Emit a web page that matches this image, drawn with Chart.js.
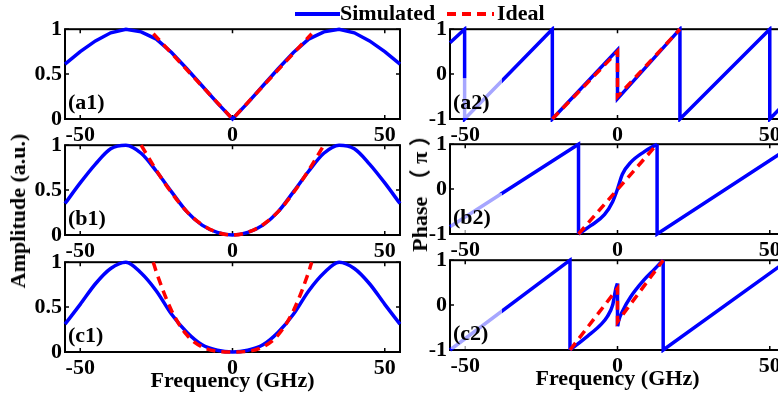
<!DOCTYPE html>
<html>
<head>
<meta charset="utf-8">
<script src="https://cdn.jsdelivr.net/npm/chart.js@4.4.0/dist/chart.umd.min.js"></script>
<style>
  html, body { margin: 0; padding: 0; background: #fff; }
  #fig { position: relative; width: 778px; height: 396px; overflow: hidden;
         font-family: 'Liberation Serif', 'Times New Roman', serif; font-weight: bold; color: #000; }
  #fig canvas { position: absolute; }
  .txt { position: absolute; font-size: 22px; line-height: 22px; white-space: nowrap; }
</style>
</head>
<body>
<div id="fig">
  <canvas id="a1" width="404" height="136" style="left:0;top:13px"></canvas>
  <canvas id="b1" width="404" height="136" style="left:0;top:129px"></canvas>
  <canvas id="c1" width="404" height="136" style="left:0;top:246px"></canvas>
  <canvas id="a2" width="404" height="136" style="left:385px;top:13px"></canvas>
  <canvas id="b2" width="404" height="136" style="left:385px;top:128px"></canvas>
  <canvas id="c2" width="404" height="136" style="left:385px;top:244px"></canvas>

  <!-- legend -->
  <div style="position:absolute;left:295px;top:12px;width:45px;height:3.5px;background:#00f"></div>
  <div class="txt" style="left:340px;top:2px">Simulated</div>
  <div style="position:absolute;left:447px;top:12px;width:47px;height:3.5px;
              background:repeating-linear-gradient(90deg,#f00 0 9px,transparent 9px 15px)"></div>
  <div class="txt" style="left:497px;top:2px">Ideal</div>

  <!-- axis titles -->
  <div class="txt" style="left:232.5px;top:369px;transform:translateX(-50%)">Frequency (GHz)</div>
  <div class="txt" style="left:617.5px;top:367px;transform:translateX(-50%)">Frequency (GHz)</div>
  <div class="txt" style="left:17.6px;top:211px;transform:translate(-50%,-50%) rotate(-90deg)">Amplitude (a.u.)</div>
  <div class="txt" style="left:419.6px;top:188px;transform:translate(-50%,-50%) rotate(-90deg);
       font-family:'Liberation Serif','Noto Sans CJK SC',serif">Phase （ π ）</div>
</div>

<script>
// ── Data ───────────────────────────────────────────────────────────────────
const FREQ_TICKS  = [-50, 0, 50];
const AMP_TICKS   = [0, 0.5, 1];
const PHASE_TICKS = [-1, 0, 1];

// amplitude panels (a.u.), sampled every 5 GHz
const FREQ   = [-55,-50,-45,-40,-35,-30,-25,-20,-15,-10,-5,0,5,10,15,20,25,30,35,40,45,50,55];
const SIM_A1 = [0.61,0.75,0.87,0.96,1.00,0.97,0.89,0.74,0.56,0.37,0.18,0.00,0.18,0.37,0.56,0.74,0.89,0.97,1.00,0.96,0.87,0.75,0.61];
const SIM_B1 = [0.35,0.58,0.79,0.96,1.00,0.91,0.71,0.48,0.26,0.11,0.03,0.00,0.03,0.11,0.26,0.48,0.71,0.91,1.00,0.96,0.79,0.58,0.35];
const SIM_C1 = [0.31,0.53,0.76,0.93,1.00,0.88,0.68,0.42,0.22,0.08,0.02,0.00,0.02,0.08,0.22,0.42,0.68,0.88,1.00,0.93,0.76,0.53,0.31];

const IDEAL_A1_F = [-26, 0, 26];
const IDEAL_A1   = [0.95, 0, 0.95];
const IDEAL_B1_F = [-30,-25,-20,-15,-10,-5,0,5,10,15,20,25,30];
const IDEAL_B1   = [1.00,0.72,0.47,0.26,0.115,0.03,0,0.03,0.115,0.26,0.47,0.72,1.00];
const IDEAL_C1_F = [-26,-25,-20,-15,-10,-5,0,5,10,15,20,25,26];
const IDEAL_C1   = [1.00,0.89,0.46,0.19,0.057,0.007,0,0.007,0.057,0.19,0.46,0.89,1.00];

// phase panels (units of π); null = break in the trace
const SIM_A2_F   = [-55,-50.2,-50.2,-21.4,-21.4,0,0,20.5,20.5,50,50,55];
const SIM_A2     = [0.70,1,-1,1,-1,0.54,-0.55,1,-1,1,-1,-0.65];
const IDEAL_A2_F = [-21.4,0,0,20.5];
const IDEAL_A2   = [-1,0.5,-0.5,1];

const SIM_B2_F     = [-55,-12.8,-12.8,0,13,13,55];
const SIM_B2       = [-0.84,1,-1,null,1,-1,0.86];
const SIM_B2_CRV_F = [-12.8,-8.7,-4.3,-1.6,0,1.6,4.4,8.7,13];
const SIM_B2_CRV   = [-1,-0.81,-0.57,-0.28,0,0.33,0.60,0.83,1];
const IDEAL_B2_F   = [-12.8,13];
const IDEAL_B2     = [-1,1];

const SIM_C2_F     = [-55,-15.6,-15.6,-8,0,0,8,15,15,55];
const SIM_C2       = [-1,1,-1,null,0.48,-0.47,null,1,-1,0.95];
const SIM_C2_CRV_F = [-15.6,-9.8,-5.4,-3.3,-1.6,-0.5,0,0,0,0.5,1.6,4.4,8.7,12,15];
const SIM_C2_CRV   = [-1,-0.69,-0.43,-0.25,0,0.38,0.48,null,-0.47,-0.32,-0.14,0.19,0.56,0.79,1];
const IDEAL_C2_F   = [-15.6,0,0,15];
const IDEAL_C2     = [-1,0.37,-0.37,1];

// ── Styles ─────────────────────────────────────────────────────────────────
const BLUE = '#0000ff';
const RED  = '#ff0000';
const TICK_FONT = { family: "'Liberation Serif', 'Times New Roman', serif", size: 22, weight: 'bold' };

const pts = (xs, ys) => xs.map((x, i) => ({ x, y: ys[i] }));

// lower `order` is painted last, so the dashed ideal sits on top of the blue
function sim(xs, ys, smooth) {
  return { data: pts(xs, ys), order: 1, borderColor: BLUE, borderWidth: 3.5, pointRadius: 0, tension: 0,
           cubicInterpolationMode: smooth ? 'monotone' : 'default', clip: 3, spanGaps: false };
}
function ideal(xs, ys, smooth) {
  return { data: pts(xs, ys), order: 0, borderColor: RED, borderWidth: 3.5, borderDash: [9, 6], pointRadius: 0, tension: 0,
           cubicInterpolationMode: smooth ? 'monotone' : 'default', clip: 3, spanGaps: false };
}

// box, inward ticks, panel tag (with the half-transparent tag box of the phase panels)
const framePlugin = {
  id: 'frame',
  beforeDatasetsDraw(chart) {
    const { ctx, chartArea: a, scales: { x, y } } = chart;
    ctx.save();
    ctx.strokeStyle = '#000';
    ctx.lineWidth = 2;
    ctx.strokeRect(a.left, a.top, a.right - a.left, a.bottom - a.top);
    ctx.lineWidth = 1.5;
    ctx.beginPath();
    x.ticks.forEach(t => {
      const px = x.getPixelForValue(t.value);
      ctx.moveTo(px, a.bottom); ctx.lineTo(px, a.bottom - 4);
      ctx.moveTo(px, a.top);    ctx.lineTo(px, a.top + 4);
    });
    y.ticks.forEach(t => {
      const py = y.getPixelForValue(t.value);
      ctx.moveTo(a.left, py);  ctx.lineTo(a.left + 4, py);
      ctx.moveTo(a.right, py); ctx.lineTo(a.right - 4, py);
    });
    ctx.stroke();
    ctx.restore();
  },
  afterDatasetsDraw(chart, args, opts) {
    const { ctx, chartArea: a, scales: { y } } = chart;
    ctx.save();
    if (opts.veil) {
      const top = y.getPixelForValue(0) + 4;
      ctx.fillStyle = 'rgba(255,255,255,0.65)';
      ctx.fillRect(a.left + 1, top, 51, a.bottom - 1 - top);
    }
    ctx.fillStyle = '#000';
    ctx.font = "bold 22px 'Liberation Serif', 'Times New Roman', serif";
    ctx.textBaseline = 'middle';
    ctx.fillText(opts.label, a.left + 3, a.bottom - 16);
    ctx.restore();
  }
};

function makePanel(id, yMin, yMax, yTicks, datasets, veil) {
  new Chart(document.getElementById(id), {
    type: 'line',
    data: { datasets },
    options: {
      responsive: false, animation: false, devicePixelRatio: 1,
      layout: { padding: { top: 16, right: 4, left: 0, bottom: 0 } },
      plugins: {
        legend: { display: false }, tooltip: { enabled: false },
        frame: { label: '(' + id + ')', veil }
      },
      scales: {
        x: {
          type: 'linear', min: -55, max: 55,
          afterBuildTicks: s => { s.ticks = FREQ_TICKS.map(v => ({ value: v })); },
          afterFit: s => { s.height = 30; },
          grid: { display: false, drawTicks: false }, border: { display: false },
          ticks: { color: '#000', font: TICK_FONT, padding: 3, maxRotation: 0, autoSkip: false,
                   callback: v => String(v) }
        },
        y: {
          type: 'linear', min: yMin, max: yMax,
          afterBuildTicks: s => { s.ticks = yTicks.map(v => ({ value: v })); },
          afterFit: s => { s.width = 65; },
          grid: { display: false, drawTicks: false }, border: { display: false },
          ticks: { color: '#000', font: TICK_FONT, padding: 3, autoSkip: false,
                   callback: v => String(v) }
        }
      }
    },
    plugins: [framePlugin]
  });
}

// ── Panels ─────────────────────────────────────────────────────────────────
makePanel('a1', 0, 1, AMP_TICKS, [sim(FREQ, SIM_A1, false), ideal(IDEAL_A1_F, IDEAL_A1, false)], false);
makePanel('b1', 0, 1, AMP_TICKS, [sim(FREQ, SIM_B1, true),  ideal(IDEAL_B1_F, IDEAL_B1, true)],  false);
makePanel('c1', 0, 1, AMP_TICKS, [sim(FREQ, SIM_C1, true),  ideal(IDEAL_C1_F, IDEAL_C1, true)],  false);

makePanel('a2', -1, 1, PHASE_TICKS, [sim(SIM_A2_F, SIM_A2, false), ideal(IDEAL_A2_F, IDEAL_A2, false)], true);
makePanel('b2', -1, 1, PHASE_TICKS, [sim(SIM_B2_F, SIM_B2, false), sim(SIM_B2_CRV_F, SIM_B2_CRV, true),
                                     ideal(IDEAL_B2_F, IDEAL_B2, false)], true);
makePanel('c2', -1, 1, PHASE_TICKS, [sim(SIM_C2_F, SIM_C2, false), sim(SIM_C2_CRV_F, SIM_C2_CRV, true),
                                     ideal(IDEAL_C2_F, IDEAL_C2, false)], true);
</script>
</body>
</html>
